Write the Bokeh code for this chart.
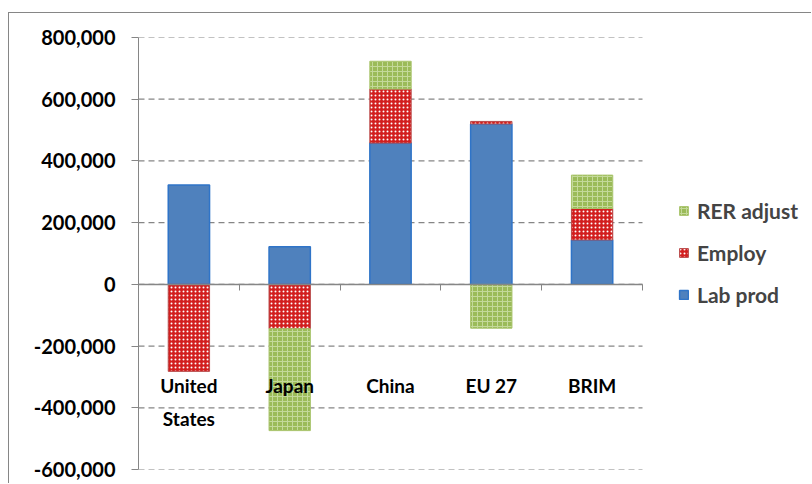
from bokeh.plotting import figure
from bokeh.models import (ColumnDataSource, Range1d, FixedTicker, NumeralTickFormatter,
                          Legend, LegendItem)
from bokeh.embed import file_html
from bokeh.resources import INLINE

# Contributions by region
categories = ["United\nStates", "Japan", "China", "EU 27", "BRIM"]
lab_prod = [322000, 122000, 458000, 520000, 144000]
employ = [-282000, -144000, 175000, 8000, 102000]
rer_adjust = [0, -330000, 90000, -142000, 108000]
y_ticks = [-600000, -400000, -200000, 0, 200000, 400000, 600000, 800000]

FONT = "Lato"
GREY = "#868686"

# Stack positives upward and negatives downward, series by series;
# zero contributions get no segment
series = [lab_prod, employ, rer_adjust]
n = len(categories)
xs = [i + 0.5 for i in range(n)]
pos = [0.0] * n
neg = [0.0] * n
stacks = []
for vals in series:
    x_, bottom, top = [], [], []
    for i, v in enumerate(vals):
        if v > 0:
            x_.append(xs[i]); bottom.append(pos[i]); top.append(pos[i] + v); pos[i] += v
        elif v < 0:
            x_.append(xs[i]); bottom.append(neg[i]); top.append(neg[i] + v); neg[i] += v
    stacks.append((x_, bottom, top))

# The frame runs to the right edge; categories fill the left 504 px of it and
# the legend sits in the remaining space.
PLOT_W = 504
FRAME_W = 674
x_end = n * FRAME_W / PLOT_W

p = figure(width=803, height=471, output_backend="svg", toolbar_location=None,
           x_range=Range1d(0, x_end), y_range=Range1d(-600000, 800000),
           min_border_left=129, min_border_right=0, min_border_top=24,
           min_border_bottom=15)
# Chart area border on the top and left sides
p.styles = {"margin-left": "8px", "margin-top": "12px",
            "border-left": f"1px solid {GREY}", "border-top": f"1px solid {GREY}"}
p.outline_line_color = None
p.background_fill_color = "white"
p.border_fill_color = "white"

# Dashed gridlines across the category area only
p.segment(x0=0, x1=n, y0=y_ticks, y1=y_ticks, line_color=GREY,
          line_dash="6 4", line_width=1.2)

styles = [
    dict(fill_color="#4f81bd", line_color="#2f74c8", line_width=1.5),
    dict(fill_color="#d21e1e", line_color="#b84848", line_width=1,
         hatch_pattern=".", hatch_color="white", hatch_scale=4, hatch_weight=1.2),
    dict(fill_color="#9bbb59", line_color="#a9c46c", line_width=1,
         hatch_pattern="+", hatch_color="#c4d99a", hatch_scale=5, hatch_weight=1),
]
renderers = []
for (x_, bottom, top), st in zip(stacks, styles):
    src = ColumnDataSource(dict(x=x_, bottom=bottom, top=top))
    renderers.append(p.vbar(x="x", bottom="bottom", top="top", width=0.41,
                            source=src, **st))

# Value axis
yax = p.yaxis[0]
yax.ticker = FixedTicker(ticks=y_ticks)
yax.formatter = NumeralTickFormatter(format="0,0")
yax.axis_line_color = GREY
yax.major_tick_line_color = GREY
yax.major_tick_out = 7
yax.major_tick_in = 0
yax.minor_tick_line_color = None
yax.major_label_standoff = 16
yax.major_label_text_font = FONT
yax.major_label_text_font_style = "bold"
yax.major_label_text_font_size = "20px"
yax.major_label_text_color = "black"

# Category axis crossing at zero, ticks between categories
xax = p.xaxis[0]
xax.fixed_location = 0
xax.bounds = (0, n)
xax.ticker = FixedTicker(ticks=xs, minor_ticks=list(range(n + 1)))
xax.major_label_overrides = {x: c for x, c in zip(xs, categories)}
xax.axis_line_color = GREY
xax.axis_line_width = 1.5
xax.major_tick_line_color = None
xax.minor_tick_line_color = GREY
xax.minor_tick_out = 6
xax.minor_tick_in = 0
xax.major_label_standoff = 84
xax.major_label_text_font = FONT
xax.major_label_text_font_style = "bold"
xax.major_label_text_font_size = "19px"
xax.major_label_text_line_height = 1.4
xax.major_label_text_color = "black"

p.xgrid.grid_line_color = None
p.ygrid.grid_line_color = None

legend = Legend(items=[LegendItem(label="RER adjust", renderers=[renderers[2]]),
                       LegendItem(label="Employ", renderers=[renderers[1]]),
                       LegendItem(label="Lab prod", renderers=[renderers[0]])],
                location=(540, 162), margin=0, padding=0, spacing=17,
                glyph_width=11, glyph_height=11, label_standoff=8, label_height=20,
                label_text_font=FONT, label_text_font_style="bold",
                label_text_font_size="21px", border_line_color=None,
                background_fill_alpha=0)
p.add_layout(legend)

open("out.html", "w").write(file_html(p, INLINE))
